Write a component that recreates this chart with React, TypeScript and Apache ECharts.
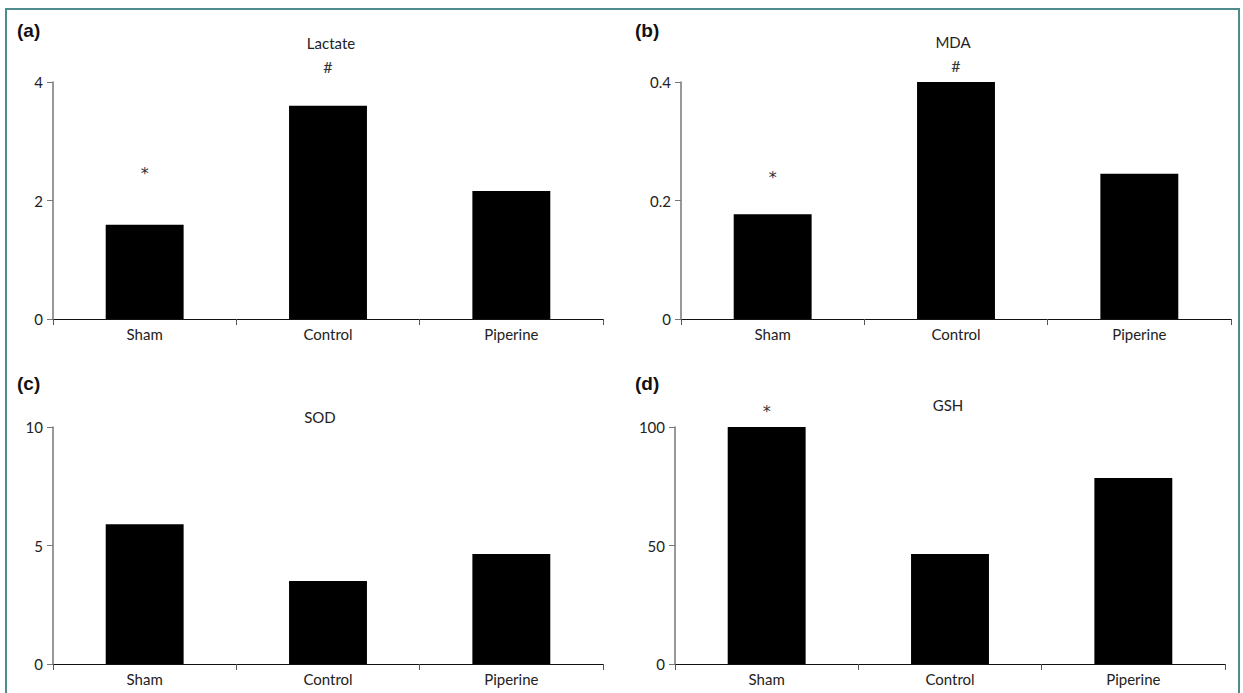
import React, { useEffect, useRef } from "react";
import * as echarts from "echarts";

const categories = ["Sham", "Control", "Piperine"];
const lactate = [1.59, 3.6, 2.16];
const mda = [0.177, 0.4, 0.245];
const sod = [5.9, 3.5, 4.64];
const gsh = [100, 46.4, 78.5];

const lactateMarks = ["*", "#", ""];
const mdaMarks = ["*", "#", ""];
const sodMarks = ["", "", ""];
const gshMarks = ["*", "", ""];

const panelTitles = ["Lactate", "MDA", "SOD", "GSH"];
const panelLetters = ["(a)", "(b)", "(c)", "(d)"];
const yMax = [4, 0.4, 10, 100];
const yInterval = [2, 0.2, 5, 50];

const FONT = "Lato, 'Open Sans', sans-serif";

export default function App() {
  const ref = useRef<HTMLDivElement>(null);
  useEffect(() => {
    document.body.style.margin = "0";
    const chart = echarts.init(ref.current!, null, { renderer: "svg" });
    const grids = [
      { left: 53, top: 82, width: 550, height: 237 },
      { left: 681, top: 82, width: 550, height: 237 },
      { left: 53, top: 427, width: 550, height: 237 },
      { left: 675, top: 427, width: 550, height: 237 },
    ];
    const values = [lactate, mda, sod, gsh];
    const marks = [lactateMarks, mdaMarks, sodMarks, gshMarks];
    const markDist = [
      [44, 32, 0],
      [30, 10, 0],
      [0, 0, 0],
      [9, 0, 0],
    ];
    const titlePos = [
      [331, 43],
      [953, 42],
      [320, 417],
      [948, 405],
    ];
    const letterPos = [
      [17, 30],
      [635, 30],
      [17, 383],
      [635, 383],
    ];
    const option: any = {
      animation: false,
      backgroundColor: "#fff",
      grid: grids.map((g) => ({ ...g, containLabel: false })),
      xAxis: grids.map((_, i) => ({
        type: "category",
        gridIndex: i,
        data: categories,
        axisLine: { lineStyle: { color: "#111", width: 1 } },
        axisTick: { show: true, length: 6, lineStyle: { color: "#555" } },
        axisLabel: { fontSize: 15, color: "#222", margin: 7, fontFamily: FONT },
      })),
      yAxis: grids.map((_, i) => ({
        type: "value",
        gridIndex: i,
        min: 0,
        max: yMax[i],
        interval: yInterval[i],
        splitLine: { show: false },
        axisLine: { show: true, lineStyle: { color: "#777", width: 1.5 } },
        axisTick: { show: true, length: 6, lineStyle: { color: "#777" } },
        axisLabel: { fontSize: 15, color: "#222", margin: 10, fontFamily: FONT },
      })),
      series: values.map((vals, i) => ({
        type: "bar",
        xAxisIndex: i,
        yAxisIndex: i,
        barWidth: "42.5%",
        itemStyle: { color: "#000" },
        data: vals.map((v, j) => ({
          value: v,
          label: {
            show: marks[i][j] !== "",
            position: "top",
            distance: markDist[i][j],
            formatter: marks[i][j],
            fontSize: 16,
            lineHeight: 14,
            color: "#333",
            fontFamily: marks[i][j] === "*" ? "'DejaVu Sans', sans-serif" : FONT,
          },
        })),
      })),
      graphic: [
        {
          type: "rect",
          shape: { x: 6, y: 9, width: 1233, height: 700 },
          style: { fill: "none", stroke: "#4f8b8e", lineWidth: 2 },
          silent: true,
        },
        ...panelTitles.map((t, i) => ({
          type: "text",
          x: titlePos[i][0],
          y: titlePos[i][1],
          style: {
            text: t,
            fontSize: 15,
            fill: "#222",
            fontFamily: FONT,
            textAlign: "center",
            textVerticalAlign: "middle",
          },
        })),
        ...panelLetters.map((t, i) => ({
          type: "text",
          x: letterPos[i][0],
          y: letterPos[i][1],
          style: {
            text: t,
            fontSize: 19,
            fontWeight: "bold",
            fill: "#111",
            fontFamily: "'Liberation Sans', Arial, sans-serif",
            textAlign: "left",
            textVerticalAlign: "middle",
          },
        })),
      ],
    };
    chart.setOption(option);
    return () => chart.dispose();
  }, []);
  return <div ref={ref} style={{ width: 1243, height: 693 }} />;
}
